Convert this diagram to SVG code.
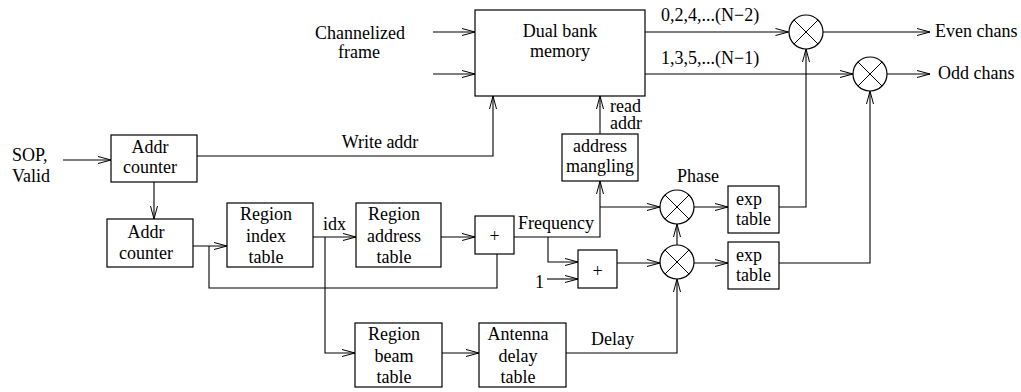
<svg xmlns="http://www.w3.org/2000/svg" width="1021" height="392" viewBox="0 0 1021 392">
<style>
  .box { fill: #fff; stroke: #000; stroke-width: 1.2; }
  .mul { fill: #fff; stroke: #000; stroke-width: 1.2; }
  .x { stroke: #000; stroke-width: 1; fill: none; }
  .w { fill: none; stroke: #000; stroke-width: 1.1; }
  .a { marker-end: url(#arr); }
  text { font-family: "Liberation Serif", "Times New Roman", serif; font-size: 18px; fill: #000; }
  .c { text-anchor: middle; }
</style>
<defs>
  <marker id="arr" markerUnits="userSpaceOnUse" markerWidth="16" markerHeight="10" refX="13" refY="4" orient="auto" overflow="visible">
    <path d="M0,0.5 L13,4 L0,7.5" fill="none" stroke="#000" stroke-width="1"/>
  </marker>
</defs>
<rect width="1021" height="392" fill="#fff"/>

<g id="connectors">
  <path class="w a" d="M433,32 H475"/>
  <path class="w a" d="M433,74 H475"/>
  <path class="w a" d="M645,32 H788.5"/>
  <path class="w a" d="M645,74 H853"/>
  <path class="w a" d="M823,32 H930"/>
  <path class="w a" d="M887,74 H930"/>
  <path class="w a" d="M63,160 H111"/>
  <path class="w a" d="M197,156 H493 V96"/>
  <path class="w a" d="M154,182 V219"/>
  <path class="w a" d="M193,246 H227"/>
  <path class="w" d="M209,246 V288 H497 V254"/>
  <path class="w a" d="M313,237 H356"/>
  <path class="w a" d="M325,237 V353 H355"/>
  <path class="w a" d="M441,237 H475"/>
  <path class="w a" d="M514,237 H600 V181"/>
  <path class="w a" d="M600,207 H660"/>
  <path class="w a" d="M548,237 V262 H578"/>
  <path class="w a" d="M547,279 H578"/>
  <path class="w a" d="M617,263 H660"/>
  <path class="w a" d="M600,134 V96"/>
  <path class="w a" d="M677,245 V224"/>
  <path class="w a" d="M694,207 H728"/>
  <path class="w a" d="M694,263 H728"/>
  <path class="w a" d="M779,207 H806 V49"/>
  <path class="w a" d="M779,263 H870 V91"/>
  <path class="w a" d="M442,353 H479"/>
  <path class="w a" d="M566,353 H677 V279"/>
</g>

<g id="labels">
  <text class="c" x="360" y="39">Channelized</text>
  <text class="c" x="359" y="58">frame</text>
  <text x="661" y="21">0,2,4,...(N−2)</text>
  <text x="661" y="64">1,3,5,...(N−1)</text>
  <text x="935" y="37">Even chans</text>
  <text x="938" y="79">Odd chans</text>
  <text x="12" y="161">SOP,</text>
  <text x="12" y="182">Valid</text>
  <text class="c" x="380" y="148">Write addr</text>
  <text x="610" y="112">read</text>
  <text x="610" y="129">addr</text>
  <text x="323" y="230">idx</text>
  <text x="518" y="229">Frequency</text>
  <text x="544" y="288" text-anchor="end">1</text>
  <text x="677" y="182">Phase</text>
  <text x="591" y="345">Delay</text>
</g>

<g id="memory">
  <rect class="box" x="475" y="10" width="170" height="86"/>
  <text class="c" x="560" y="37">Dual bank</text>
  <text class="c" x="560" y="57">memory</text>
</g>

<g id="addr-counter-1">
  <rect class="box" x="111" y="135" width="86" height="47"/>
  <text class="c" x="150" y="153">Addr</text>
  <text class="c" x="150" y="173">counter</text>
</g>

<g id="addr-counter-2">
  <rect class="box" x="107" y="219" width="86" height="48"/>
  <text class="c" x="146" y="238">Addr</text>
  <text class="c" x="146" y="259">counter</text>
</g>

<g id="region-index-table">
  <rect class="box" x="227" y="203" width="86" height="64"/>
  <text class="c" x="266" y="220">Region</text>
  <text class="c" x="266" y="242">index</text>
  <text class="c" x="266" y="263">table</text>
</g>

<g id="region-address-table">
  <rect class="box" x="356" y="203" width="85" height="64"/>
  <text class="c" x="394" y="220">Region</text>
  <text class="c" x="394" y="242">address</text>
  <text class="c" x="394" y="263">table</text>
</g>

<g id="adder-1">
  <rect class="box" x="475" y="216" width="39" height="38"/>
  <text class="c" x="494.5" y="242">+</text>
</g>

<g id="adder-2">
  <rect class="box" x="578" y="250" width="39" height="38"/>
  <text class="c" x="597.5" y="277">+</text>
</g>

<g id="address-mangling">
  <rect class="box" x="562" y="134" width="76" height="47"/>
  <text class="c" x="600" y="152">address</text>
  <text class="c" x="600" y="172">mangling</text>
</g>

<g id="mul-phase">
  <circle class="mul" cx="677" cy="207" r="17"/>
  <path class="x" d="M665,195 L689,219 M689,195 L665,219"/>
</g>

<g id="mul-delay">
  <circle class="mul" cx="677" cy="262" r="17"/>
  <path class="x" d="M665,250 L689,274 M689,250 L665,274"/>
</g>

<g id="exp-table-1">
  <rect class="box" x="728" y="186" width="51" height="47"/>
  <text x="736" y="205">exp</text>
  <text x="736" y="225">table</text>
</g>

<g id="exp-table-2">
  <rect class="box" x="728" y="242" width="51" height="47"/>
  <text x="736" y="261">exp</text>
  <text x="736" y="281">table</text>
</g>

<g id="mul-even">
  <circle class="mul" cx="806" cy="32" r="17"/>
  <path class="x" d="M794,20 L818,44 M818,20 L794,44"/>
</g>

<g id="mul-odd">
  <circle class="mul" cx="870" cy="74" r="17"/>
  <path class="x" d="M858,62 L882,86 M882,62 L858,86"/>
</g>

<g id="region-beam-table">
  <rect class="box" x="355" y="323" width="87" height="64"/>
  <text class="c" x="394" y="340">Region</text>
  <text class="c" x="394" y="362">beam</text>
  <text class="c" x="394" y="383">table</text>
</g>

<g id="antenna-delay-table">
  <rect class="box" x="479" y="323" width="87" height="64"/>
  <text class="c" x="518" y="340">Antenna</text>
  <text class="c" x="518" y="362">delay</text>
  <text class="c" x="518" y="383">table</text>
</g>
</svg>
